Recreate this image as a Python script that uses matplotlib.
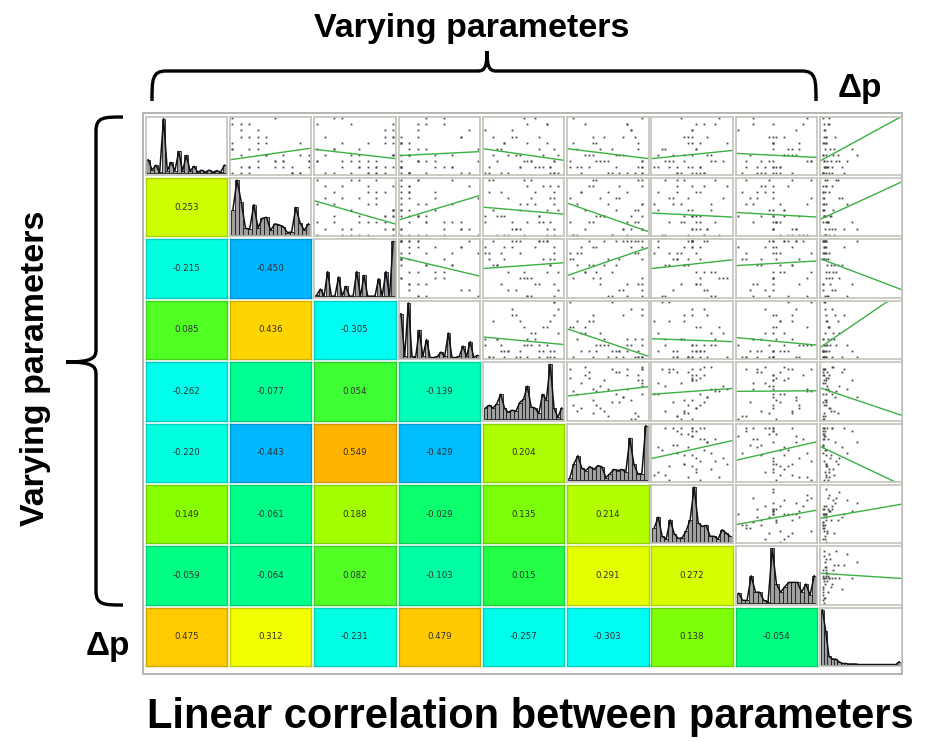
"""Scatter-matrix style figure: correlations (lower), histograms (diagonal),
scatter + linear fit (upper) for the varying parameters and delta-p."""

import matplotlib

matplotlib.use("Agg")
import matplotlib.pyplot as plt  # noqa: E402
import numpy as np  # noqa: E402
from matplotlib.colors import LinearSegmentedColormap, Normalize, to_rgb  # noqa: E402
from matplotlib.path import Path  # noqa: E402
from matplotlib.patches import PathPatch, Rectangle  # noqa: E402

N_VARS = 9

# lower triangle: Pearson r, row i vs column j (j < i)
CORR_ROWS = [
    [],
    [0.253],
    [-0.215, -0.450],
    [0.085, 0.436, -0.305],
    [-0.262, -0.077, 0.054, -0.139],
    [-0.220, -0.443, 0.549, -0.429, 0.204],
    [0.149, -0.061, 0.188, -0.029, 0.135, 0.214],
    [-0.059, -0.064, 0.082, -0.103, 0.015, 0.291, 0.272],
    [0.475, 0.312, -0.231, 0.479, -0.257, -0.303, 0.138, -0.054],
]

# diagonal histograms (relative bin heights)
HIST_0 = [0.25, 0.06, 0.15, 0.02, 1.0, 0.05, 0.2, 0.05, 0.4, 0.04, 0.33,
          0.04, 0.13, 0.02, 0.06, 0.02, 0.06, 0.02, 0.05, 0.02, 0.15]
HIST_1 = [0.45, 1.0, 0.6, 0.12, 0.1, 0.55, 0.12, 0.3, 0.32, 0.08, 0.2,
          0.18, 0.15, 0.04, 0.05, 0.5, 0.22, 0.08, 0.2]
HIST_2 = [0.02, 0.13, 0.0, 0.45, 0.0, 0.0, 0.35, 0.0, 0.18, 0.0, 0.0,
          0.45, 0.0, 0.38, 0.0, 0.0, 0.0, 0.32, 0.0, 0.45, 0.0, 1.0]
HIST_3 = [0.8, 0.02, 1.0, 0.02, 0.0, 0.5, 0.02, 0.33, 0.0, 0.0, 0.02,
          0.1, 0.02, 0.45, 0.0, 0.0, 0.02, 0.21, 0.02, 0.29, 0.0, 0.04]
HIST_4 = [0.2, 0.25, 0.2, 0.28, 0.45, 0.2, 0.12, 0.16, 0.14, 0.3, 0.36,
          0.6, 0.22, 0.2, 0.1, 0.45, 0.35, 1.0, 0.2, 0.03, 0.2]
HIST_5 = [0.05, 0.3, 0.45, 0.22, 0.18, 0.25, 0.2, 0.27, 0.25, 0.05, 0.12,
          0.2, 0.18, 0.2, 0.15, 0.77, 0.3, 0.12, 0.12, 1.0]
HIST_6 = [0.25, 0.45, 0.1, 0.05, 0.4, 0.15, 0.06, 0.07, 0.2, 0.4, 1.0,
          0.35, 0.28, 0.3, 0.1, 0.1, 0.05, 0.22, 0.16, 0.1]
HIST_7 = [0.18, 0.05, 0.05, 0.5, 0.2, 0.2, 0.05, 0.02, 1.0, 0.35, 0.2,
          0.3, 0.38, 0.38, 0.38, 0.2, 0.35, 0.15, 0.5]
HIST_DP = [1.0, 0.62, 0.15, 0.1, 0.1, 0.05, 0.02, 0.02, 0.01, 0.01, 0.01,
           0.0, 0.0, 0.0, 0.0, 0.0, 0.0, 0.0, 0.0, 0.0, 0.0, 0.0, 0.0, 0.05]
HISTS = [HIST_0, HIST_1, HIST_2, HIST_3, HIST_4, HIST_5, HIST_6, HIST_7, HIST_DP]

# samples behind the upper-triangle scatters (parameter levels / delta-p)
V0 = [1, 4, 0, 6, 2, 1, 8, 3, 0, 5, 2, 7, 1, 3, 9, 0, 4, 2, 6, 1, 3, 0, 5, 2,
      8, 1, 4, 0, 3, 7, 2, 5, 1, 9, 0, 3, 6, 2, 4, 1, 0, 5, 3, 8, 2, 1, 6, 0]
V1 = [3, 0, 7, 2, 5, 9, 1, 4, 8, 0, 6, 3, 2, 1, 5, 7, 0, 9, 4, 2, 6, 1, 8, 3,
      0, 5, 2, 7, 4, 1, 9, 3, 6, 0, 2, 8, 1, 5, 3, 7, 0, 4, 9, 2, 6, 1, 3, 8]
V2 = [9, 5, 2, 8, 0, 7, 4, 9, 1, 6, 3, 8, 5, 9, 2, 7, 0, 4, 9, 6, 1, 8, 3, 5,
      9, 7, 2, 6, 4, 9, 0, 8, 5, 3, 7, 9, 1, 6, 2, 8, 4, 9, 5, 0, 7, 3, 9, 6]
V3 = [0, 3, 1, 7, 2, 0, 5, 1, 8, 0, 4, 2, 6, 0, 3, 1, 9, 2, 0, 5, 1, 7, 0, 3,
      2, 6, 1, 0, 4, 8, 2, 1, 0, 5, 3, 1, 7, 0, 2, 4, 1, 0, 6, 3, 9, 0, 2, 1]
V4 = [14, 3, 18, 7, 11, 1, 16, 9, 19, 5, 12, 0, 17, 8, 13, 4, 18, 10, 2, 15,
      6, 18, 11, 3, 16, 9, 14, 1, 19, 7, 12, 5, 17, 10, 0, 15, 8, 18, 4, 13,
      6, 16, 2, 11, 18, 9, 14, 17]
V5 = [19, 2, 15, 6, 10, 18, 4, 12, 19, 1, 8, 16, 5, 14, 19, 3, 11, 7, 17, 0,
      13, 19, 6, 9, 15, 2, 18, 10, 4, 16, 19, 7, 12, 1, 17, 5, 14, 19, 8, 3,
      11, 18, 6, 15, 0, 19, 9, 13]
V6 = [10, 3, 12, 8, 15, 6, 11, 1, 13, 9, 18, 10, 4, 14, 7, 11, 2, 16, 9, 12,
      5, 10, 19, 8, 13, 0, 11, 6, 15, 10, 3, 12, 9, 17, 7, 10, 14, 5, 11, 1,
      13, 10, 8, 16, 4, 12, 10, 6]
V7 = [9, 14, 5, 10, 18, 2, 9, 12, 7, 16, 9, 0, 11, 15, 4, 9, 13, 19, 8, 10,
      3, 14, 9, 6, 17, 11, 9, 1, 12, 15, 8, 9, 5, 18, 10, 13, 9, 2, 16, 7, 11,
      9, 14, 4, 19, 9, 12, 6]
DP = [0.02, 0.15, 0.01, 0.05, 0.32, 0.03, 0.08, 0.01, 0.12, 0.04, 0.22, 0.02,
      0.06, 0.45, 0.01, 0.09, 0.03, 0.18, 0.02, 0.07, 0.01, 0.28, 0.04, 0.11,
      0.02, 0.05, 0.38, 0.01, 0.14, 0.03, 0.06, 0.02, 0.25, 0.08, 0.01, 0.04,
      0.17, 0.02, 0.1, 0.03, 0.05, 0.01, 0.2, 0.07, 0.02, 0.13, 0.04, 0.01]
SAMPLES = [V0, V1, V2, V3, V4, V5, V6, V7, DP]
RANGES = [(0, 9), (0, 9), (0, 9), (0, 9), (0, 20), (0, 20), (0, 20), (0, 20), (0, 1)]

# linear fit per upper cell (row i, col j): fitted y (0..1 of range) at x=0 and x=1
FIT_LEFT = [
    [None, 0.26, 0.44, 0.33, 0.45, 0.45, 0.28, 0.37, 0.24],
    [None, None, 0.61, 0.28, 0.50, 0.57, 0.40, 0.41, 0.29],
    [None, None, None, 0.70, 0.50, 0.38, 0.50, 0.55, 0.67],
    [None, None, None, None, 0.38, 0.52, 0.35, 0.37, 0.20],
    [None, None, None, None, None, 0.42, 0.45, 0.50, 0.56],
    [None, None, None, None, None, None, 0.40, 0.37, 0.61],
    [None, None, None, None, None, None, None, 0.32, 0.43],
    [None, None, None, None, None, None, None, None, 0.54],
]
FIT_RIGHT = [
    [None, 0.46, 0.28, 0.40, 0.25, 0.28, 0.42, 0.30, 1.00],
    [None, None, 0.21, 0.70, 0.38, 0.08, 0.33, 0.33, 0.93],
    [None, None, None, 0.37, 0.60, 0.86, 0.65, 0.63, 0.14],
    [None, None, None, None, 0.25, 0.05, 0.30, 0.24, 1.15],
    [None, None, None, None, None, 0.58, 0.55, 0.51, 0.09],
    [None, None, None, None, None, None, 0.71, 0.69, -0.05],
    [None, None, None, None, None, None, None, 0.57, 0.67],
    [None, None, None, None, None, None, None, None, 0.45],
]

# colour scale for r
CMAP_R = [-0.45, -0.30, -0.20, -0.06, 0.0, 0.10, 0.15, 0.25, 0.32, 0.44, 0.55]
CMAP_C = ["#00b4ff", "#00fff4", "#00ffdc", "#00ff88", "#18ff50", "#5cff1c",
          "#88ff00", "#ccff00", "#f4ff00", "#ffd400", "#ffb400"]

W, H = 936, 742
X0, PX, CW = 145.6, 84.3, 81.5
Y0, PY, CH = 116.5, 61.4, 58.5

norm = Normalize(CMAP_R[0], CMAP_R[-1])
cmap = LinearSegmentedColormap.from_list(
    "corr", [((r - CMAP_R[0]) / (CMAP_R[-1] - CMAP_R[0]), c) for r, c in zip(CMAP_R, CMAP_C)]
)


def frac(x0, y0, w, h):
    return [x0 / W, 1 - (y0 + h) / H, w / W, h / H]


def scaled(k):
    lo, hi = RANGES[k]
    v = (np.asarray(SAMPLES[k], float) - lo) / (hi - lo)
    return 0.03 + 0.94 * v


fig = plt.figure(figsize=(W / 100, H / 100), dpi=100)

# overlay in pixel coordinates for frame, braces and labels
ov = fig.add_axes([0, 0, 1, 1])
ov.set_xlim(0, W)
ov.set_ylim(H, 0)
ov.axis("off")
ov.add_patch(Rectangle((143, 113), 759, 561, fill=False, ec="#a8a8a8", lw=1.2))

for i in range(N_VARS):
    for j in range(N_VARS):
        ax = fig.add_axes(frac(X0 + j * PX, Y0 + i * PY, CW, CH))
        ax.set_xticks([])
        ax.set_yticks([])
        if j < i:
            r = CORR_ROWS[i][j]
            face = cmap(norm(r))
            ax.set_facecolor(face)
            for s in ax.spines.values():
                s.set_color(tuple(0.82 * c for c in to_rgb(face)))
                s.set_linewidth(1.0)
            ax.text(0.5, 0.5, f"{r:.3f}", ha="center", va="center",
                    fontsize=6.2, color="#303030", family="DejaVu Sans")
            continue
        for s in ax.spines.values():
            s.set_color("#c2c2ba")
            s.set_linewidth(1.2)
        if i == j:
            h = HISTS[i]
            xs = np.arange(len(h))
            ax.bar(xs, h, width=1.0, color="#a0a0a0", edgecolor="#1a1a1a", lw=0.6)
            ax.plot(xs, h, color="#111111", lw=1.1)
            ax.set_xlim(-0.7, len(h) - 0.3)
            ax.set_ylim(-0.03, 1.04)
        else:
            ax.plot(scaled(j), scaled(i), ls="none", marker="s", ms=1.3,
                    mfc="#4a4a4a", mec="none")
            ax.plot([0, 1], [FIT_LEFT[i][j], FIT_RIGHT[i][j]], color="#3cb043", lw=1.0)
            ax.set_xlim(0, 1)
            ax.set_ylim(0, 1)

# braces
brace_top = Path(
    [(152, 101), (152, 80), (152, 71), (166, 71), (478, 71), (485, 71), (487, 66), (487, 51),
     (487, 51), (487, 66), (489, 71), (496, 71), (802, 71), (816, 71), (816, 80), (816, 101)],
    [Path.MOVETO, Path.CURVE4, Path.CURVE4, Path.CURVE4, Path.LINETO, Path.CURVE4, Path.CURVE4,
     Path.CURVE4, Path.MOVETO, Path.CURVE4, Path.CURVE4, Path.CURVE4, Path.LINETO, Path.CURVE4,
     Path.CURVE4, Path.CURVE4],
)
brace_left = Path(
    [(123, 117), (104, 117), (96, 117), (96, 131), (96, 350), (96, 358), (92, 362), (66, 362),
     (66, 362), (92, 362), (96, 366), (96, 374), (96, 591), (96, 605), (104, 605), (123, 605)],
    [Path.MOVETO, Path.CURVE4, Path.CURVE4, Path.CURVE4, Path.LINETO, Path.CURVE4, Path.CURVE4,
     Path.CURVE4, Path.MOVETO, Path.CURVE4, Path.CURVE4, Path.CURVE4, Path.LINETO, Path.CURVE4,
     Path.CURVE4, Path.CURVE4],
)
for p in (brace_top, brace_left):
    ov.add_patch(PathPatch(p, fill=False, lw=2.4, ec="black", capstyle="butt"))

lab = dict(family="Liberation Sans", fontweight="bold", color="black")
ov.text(472, 28, "Varying parameters", ha="center", va="center", fontsize=24.5, **lab)
ov.text(36, 368, "Varying parameters", ha="center", va="center", rotation=90,
        fontsize=24.5, **lab)
ov.text(860, 88, "Δp", ha="center", va="center", fontsize=24, **lab)
ov.text(108, 647, "Δp", ha="center", va="center", fontsize=24, **lab)
ov.text(530, 717, "Linear correlation between parameters", ha="center", va="center",
        fontsize=30, **lab)

fig.savefig("out.png", dpi=100)
